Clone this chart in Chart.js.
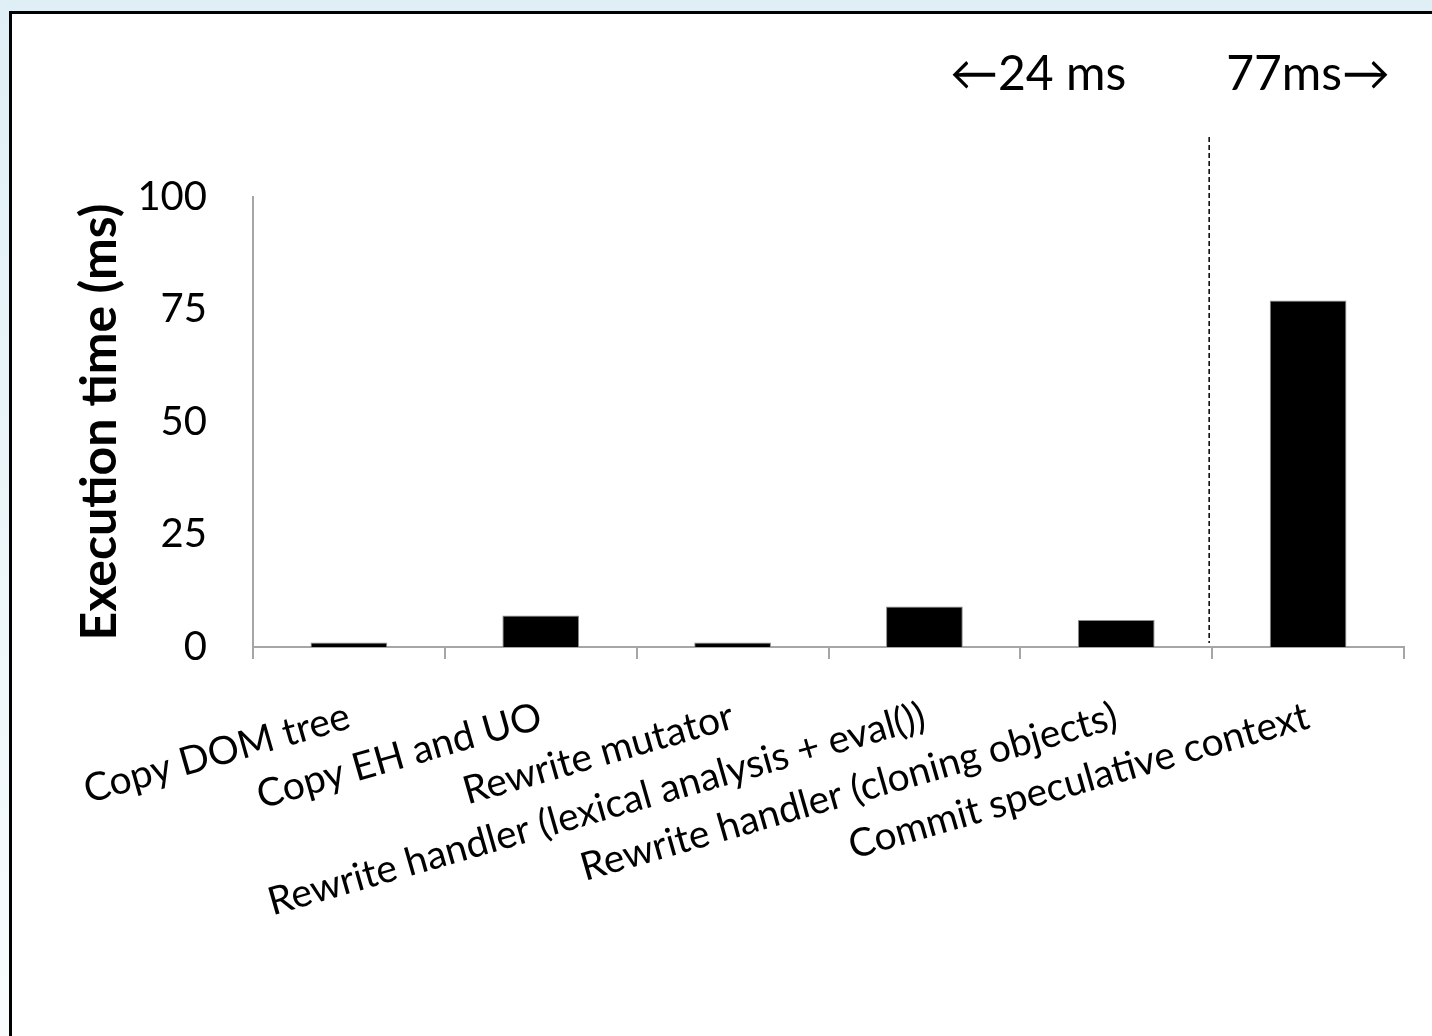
<!DOCTYPE html>
<html>
<head>
<meta charset="utf-8">
<script src="https://cdn.jsdelivr.net/npm/chart.js@4.4.1/dist/chart.umd.min.js"></script>
<style>
  html, body { margin: 0; padding: 0; background: #ffffff; }
  canvas { display: block; }
</style>
</head>
<body>
<canvas id="chart" width="1432" height="1036"></canvas>
<script>
// Per-phase execution time of a speculative event handler run
const categories = [
  'Copy DOM tree',
  'Copy EH and UO',
  'Rewrite mutator',
  'Rewrite handler (lexical analysis + eval())',
  'Rewrite handler (cloning objects)',
  'Commit speculative context'
];
const executionMs = [1, 7, 1, 9, 6, 77];
const yTickValues = [0, 25, 50, 75, 100];
const yAxisTitle = 'Execution time (ms)';
// phases left of the divider are summed in the left note, the rest in the right note
const dividerAfter = 5;

const FONT = "Lato, 'DejaVu Sans', sans-serif";
const AXIS_GREY = '#a6a6a6';

const sum = a => a.reduce((s, v) => s + v, 0);
const leftNote = '\u2190' + sum(executionMs.slice(0, dividerAfter)) + ' ms';
const rightNote = sum(executionMs.slice(dividerAfter)) + 'ms\u2192';

// Slide frame: pale blue margin with a dark rule on the top and left edges
const framePlugin = {
  id: 'frame',
  beforeDraw(chart) {
    const { ctx, width, height } = chart;
    ctx.save();
    const g = ctx.createLinearGradient(0, 0, 0, height);
    g.addColorStop(0, '#e0eff5');
    g.addColorStop(1, '#f8fcfd');
    ctx.fillStyle = g;
    ctx.fillRect(0, 0, width, height);
    ctx.fillStyle = '#ffffff';
    ctx.fillRect(11, 13, width - 11, height - 13);
    ctx.fillStyle = '#000000';
    ctx.fillRect(9, 11, width - 9, 3);
    ctx.fillRect(9, 11, 3, height - 11);
    ctx.restore();
  }
};

// Dashed divider between the two groups with their summary notes
const dividerPlugin = {
  id: 'divider',
  afterDraw(chart) {
    const { ctx } = chart;
    const x = chart.scales.x.getPixelForValue(dividerAfter - 0.5) - 3;
    const yTop = 137;
    const yBottom = chart.scales.y.getPixelForValue(0) - 4;
    ctx.save();
    ctx.strokeStyle = '#000000';
    ctx.lineWidth = 1.5;
    ctx.setLineDash([5, 3]);
    ctx.beginPath();
    ctx.moveTo(x, yTop);
    ctx.lineTo(x, yBottom);
    ctx.stroke();
    ctx.setLineDash([]);
    ctx.fillStyle = '#000000';
    ctx.font = '48px ' + FONT;
    ctx.textBaseline = 'alphabetic';
    ctx.textAlign = 'right';
    ctx.fillText(leftNote, x - 83, 90);
    ctx.textAlign = 'left';
    ctx.fillText(rightNote, x + 17, 90);
    ctx.restore();
  }
};

const PAD = { left: 70, right: 28, top: 197, bottom: 0 };

new Chart(document.getElementById('chart'), {
  type: 'bar',
  data: {
    labels: categories,
    datasets: [{
      data: executionMs,
      backgroundColor: '#000000',
      borderColor: '#8c8c8c',
      borderWidth: 1,
      barPercentage: 0.4,
      categoryPercentage: 1.0
    }]
  },
  options: {
    responsive: false,
    animation: false,
    devicePixelRatio: 1,
    layout: { padding: PAD },
    plugins: {
      legend: { display: false },
      tooltip: { enabled: false }
    },
    scales: {
      x: {
        grid: {
          offset: true,
          drawOnChartArea: false,
          drawTicks: true,
          tickLength: 12,
          color: AXIS_GREY,
          lineWidth: 2
        },
        border: { display: true, color: AXIS_GREY, width: 2 },
        ticks: {
          color: '#000000',
          font: { family: FONT, size: 39 },
          minRotation: 16,
          maxRotation: 16,
          autoSkip: false,
          padding: 34
        },
        afterFit(scale) { scale.height = 1036 - 647 - PAD.bottom; }
      },
      y: {
        min: 0,
        max: 100,
        afterBuildTicks(scale) { scale.ticks = yTickValues.map(v => ({ value: v })); },
        grid: { display: false, drawTicks: false },
        border: { display: true, color: AXIS_GREY, width: 2 },
        ticks: {
          color: '#000000',
          font: { family: FONT, size: 40 },
          padding: 46
        },
        title: {
          display: true,
          text: yAxisTitle,
          color: '#000000',
          font: { family: FONT, size: 50, weight: 'bold' },
          padding: 0
        },
        afterFit(scale) { scale.width = 253 - PAD.left; }
      }
    }
  },
  plugins: [framePlugin, dividerPlugin]
});
</script>
</body>
</html>
